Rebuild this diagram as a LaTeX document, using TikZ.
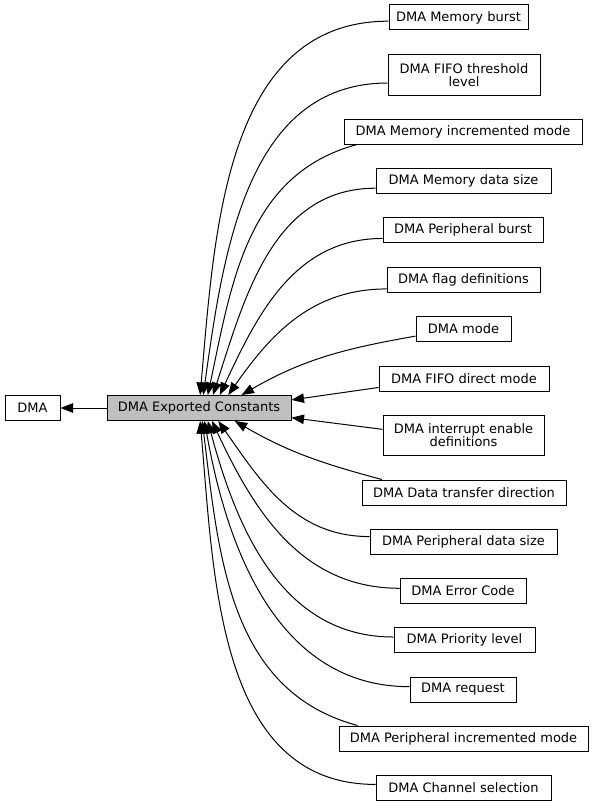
\documentclass[tikz,border=0pt]{standalone}
\usepackage{fontspec}
\setmainfont{DejaVu Sans}
\usetikzlibrary{arrows.meta}

\tikzset{
  grp/.style={draw, line width=1pt, minimum height=25pt, inner sep=0pt,
    align=center, font=\fontsize{13}{13.5}\selectfont},
  dep/.style={line width=1pt, -{Triangle[length=12.5pt,width=9.5pt]}},
}

\begin{document}
\begin{tikzpicture}[x=1pt, y=-1pt]
    \useasboundingbox (0,0) rectangle (595,808);

    \node[grp, minimum width=55pt] (dma) at (32.5,408) {DMA};
    \node[grp, minimum width=184pt, fill=black!25] (dec) at (199,408) {DMA Exported Constants};

    \node[grp, minimum width=139pt] (mburst) at (458.5,17.5) {DMA Memory burst};
    \node[grp, minimum width=152pt, minimum height=40pt] (fifoth) at (464,75) {DMA FIFO threshold\\level};
    \node[grp, minimum width=238pt] (minc) at (463,131.5) {DMA Memory incremented mode};
    \node[grp, minimum width=175pt] (msize) at (463.5,180.5) {DMA Memory data size};
    \node[grp, minimum width=160pt] (pburst) at (463,230) {DMA Peripheral burst};
    \node[grp, minimum width=153pt] (flags) at (463.5,279.5) {DMA flag definitions};
    \node[grp, minimum width=95pt] (mode) at (463.5,328.5) {DMA mode};
    \node[grp, minimum width=170pt] (fifodm) at (464,378.5) {DMA FIFO direct mode};
    \node[grp, minimum width=161pt, minimum height=40pt] (irq) at (463.5,435) {DMA interrupt enable\\definitions};
    \node[grp, minimum width=204pt] (dir) at (464,492.5) {DMA Data transfer direction};
    \node[grp, minimum width=187pt] (psize) at (463.5,541.5) {DMA Peripheral data size};
    \node[grp, minimum width=126pt] (err) at (463,590.5) {DMA Error Code};
    \node[grp, minimum width=141pt] (prio) at (464.5,639.5) {DMA Priority level};
    \node[grp, minimum width=106pt] (req) at (463,689.5) {DMA request};
    \node[grp, minimum width=249pt] (pinc) at (463.5,738.5) {DMA Peripheral incremented mode};
    \node[grp, minimum width=175pt] (chan) at (463.5,787.5) {DMA Channel selection};

    \draw[dep] (dec) -- (dma);

    \draw[dep] (mburst.183) to[out=180, in=85] (dec.85);
    \draw[dep] (fifoth.186) to[out=180, in=82] (dec.72);
    \draw[dep] (minc.187) to[out=195, in=78] (dec.56);
    \draw[dep] (msize.185) to[out=180, in=72] (dec.43);
    \draw[dep] (pburst.186) to[out=180, in=65] (dec.32);
    \draw[dep] (flags.187) to[out=180, in=55] (dec.24);
    \draw[dep] (mode.189) to[out=190, in=30] (dec.17);
    \draw[dep] (fifodm.186) -- (dec.5);
    \draw[dep] (irq.176) -- (dec.-6);
    \draw[dep] (dir.171) to[out=165, in=-30] (dec.-20);
    \draw[dep] (psize.177) to[out=180, in=-55] (dec.-34);
    \draw[dep] (err.178) to[out=180, in=-65] (dec.-45);
    \draw[dep] (prio.178) to[out=180, in=-75] (dec.-56);
    \draw[dep] (req.177) to[out=180, in=-80] (dec.-67);
    \draw[dep] (pinc.173) to[out=165, in=-83] (dec.-76);
    \draw[dep] (chan.178) to[out=180, in=-85] (dec.-85);
  \end{tikzpicture}
\end{document}
